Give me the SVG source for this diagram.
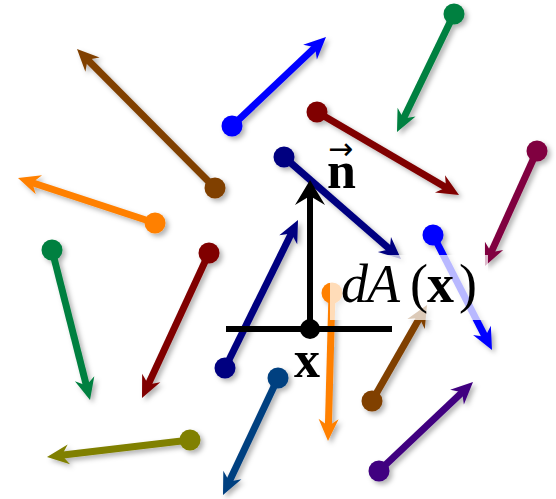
<svg xmlns="http://www.w3.org/2000/svg" xmlns:xlink="http://www.w3.org/1999/xlink" width="556" height="499" viewBox="0 0 556 499">
<style>
.v line{stroke-width:7;stroke-linecap:butt}
.v{filter:url(#sh)}
.tx{font-family:"Liberation Serif","Times New Roman",serif;fill:#000}
</style>
<defs>
<filter id="sh" filterUnits="userSpaceOnUse" x="0" y="0" width="556" height="499">
<feDropShadow dx="3" dy="3" stdDeviation="2.5" flood-color="#000" flood-opacity="0.3"/>
</filter>
<path id="h" d="M0,0 L-22,-10 L-15,0 L-22,10 Z"/>
<path id="hb" d="M0,0 L-25,-15 L-16,0 L-25,15 Z"/>
</defs>
<g id="connectors">
<g id="a1" class="v" fill="#804000"><line x1="215" y1="188" x2="85.4" y2="57.5" stroke="#804000"/><circle cx="215" cy="188" r="10.5"/><use xlink:href="#h" transform="translate(77,49) rotate(-134.8)"/></g>
<g id="a2" class="v" fill="#FF8000"><line x1="155" y1="223" x2="29.4" y2="181.7" stroke="#FF8000"/><circle cx="155" cy="223" r="10.5"/><use xlink:href="#h" transform="translate(18,178) rotate(-161.8)"/></g>
<g id="a3" class="v" fill="#0000FF"><line x1="232" y1="126" x2="317.3" y2="45.3" stroke="#0000FF"/><circle cx="232" cy="126" r="10.5"/><use xlink:href="#h" transform="translate(326,37) rotate(-43.4)"/></g>
<g id="a4" class="v" fill="#008040"><line x1="454" y1="14" x2="402.2" y2="121.2" stroke="#008040"/><circle cx="454" cy="14" r="10.5"/><use xlink:href="#h" transform="translate(397,132) rotate(115.8)"/></g>
<g id="a5" class="v" fill="#800000"><line x1="317" y1="112" x2="448.6" y2="188.9" stroke="#800000"/><circle cx="317" cy="112" r="10.5"/><use xlink:href="#h" transform="translate(459,195) rotate(30.3)"/></g>
<g id="a6" class="v" fill="#800040"><line x1="537" y1="151" x2="489.9" y2="255.1" stroke="#800040"/><circle cx="537" cy="151" r="10.5"/><use xlink:href="#h" transform="translate(485,266) rotate(114.3)"/></g>
<g id="a7" class="v" fill="#000080"><line x1="284" y1="157" x2="392" y2="251.1" stroke="#000080"/><circle cx="284" cy="157" r="10.5"/><use xlink:href="#h" transform="translate(401,259) rotate(41.1)"/></g>
<g id="a8" class="v" fill="#000080"><line x1="225" y1="368" x2="292.7" y2="230.8" stroke="#000080"/><circle cx="225" cy="368" r="10.5"/><use xlink:href="#h" transform="translate(298,220) rotate(-63.7)"/></g>
<g id="a9" class="v" fill="#0000FF"><line x1="433" y1="235" x2="486.5" y2="339.3" stroke="#0000FF"/><circle cx="433" cy="235" r="10.5"/><use xlink:href="#h" transform="translate(492,350) rotate(62.8)"/></g>
<g id="a10" class="v" fill="#FF8000"><line x1="332" y1="293" x2="328.3" y2="429" stroke="#FF8000"/><circle cx="332" cy="293" r="10.5"/><use xlink:href="#h" transform="translate(328,441) rotate(91.5)"/></g>
<g id="a11" class="v" fill="#804000"><line x1="372" y1="401" x2="421" y2="315.4" stroke="#804000"/><circle cx="372" cy="401" r="10.5"/><use xlink:href="#h" transform="translate(427,305) rotate(-60.2)"/></g>
<g id="a12" class="v" fill="#400080"><line x1="379" y1="471" x2="464.3" y2="390.3" stroke="#400080"/><circle cx="379" cy="471" r="10.5"/><use xlink:href="#h" transform="translate(473,382) rotate(-43.4)"/></g>
<g id="a13" class="v" fill="#004080"><line x1="278" y1="378" x2="228.1" y2="484.1" stroke="#004080"/><circle cx="278" cy="378" r="10.5"/><use xlink:href="#h" transform="translate(223,495) rotate(115.2)"/></g>
<g id="a14" class="v" fill="#008040"><line x1="52" y1="250" x2="87.1" y2="388.4" stroke="#008040"/><circle cx="52" cy="250" r="10.5"/><use xlink:href="#h" transform="translate(90,400) rotate(75.8)"/></g>
<g id="a15" class="v" fill="#800000"><line x1="209" y1="253" x2="147" y2="387.1" stroke="#800000"/><circle cx="209" cy="253" r="10.5"/><use xlink:href="#h" transform="translate(142,398) rotate(114.8)"/></g>
<g id="a16" class="v" fill="#808000"><line x1="190" y1="440" x2="58.9" y2="455.6" stroke="#808000"/><circle cx="190" cy="440" r="10.5"/><use xlink:href="#h" transform="translate(47,457) rotate(173.2)"/></g>
</g>
<g id="surface">
<line x1="226" y1="329" x2="392" y2="329" stroke="#000" stroke-width="6"/>
<line x1="310" y1="329" x2="310" y2="194" stroke="#000" stroke-width="6"/>
<use xlink:href="#hb" transform="translate(310,180) rotate(-90)" fill="#000"/>
<circle cx="310" cy="329" r="10" fill="#000"/>
</g>
<g id="label-n">
<text class="tx" x="327" y="188" font-size="52" font-weight="bold">n<tspan x="328" y="159" font-size="30" font-weight="normal" font-family="DejaVu Sans, sans-serif">→</tspan></text>
</g>
<g id="label-x">
<text class="tx" x="294" y="377" font-size="52" font-weight="bold">x</text>
</g>
<g id="label-dA">
<rect x="330" y="255" width="158" height="65" fill="#fff" fill-opacity="0.72"/>
<text class="tx" y="302" font-size="54"><tspan x="341" font-style="italic">d</tspan><tspan x="367" font-style="italic">A</tspan><tspan x="410">(</tspan><tspan x="427" font-weight="bold">x</tspan><tspan x="459">)</tspan></text>
</g>
</svg>
